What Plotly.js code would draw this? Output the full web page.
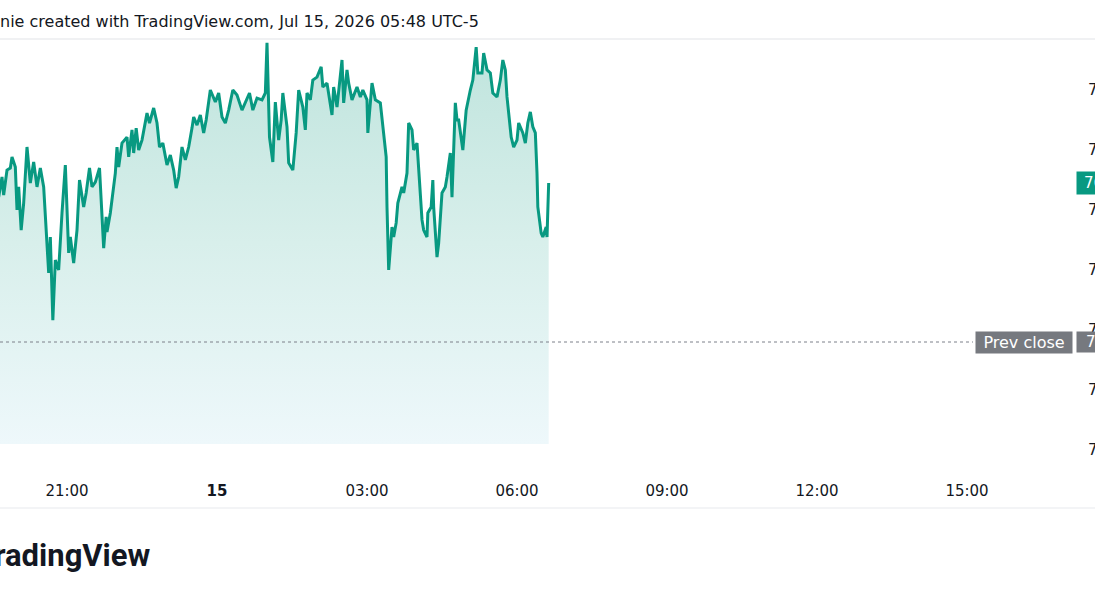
<!DOCTYPE html>
<html><head><meta charset="utf-8">
<script src="https://cdn.plot.ly/plotly-3.0.1.min.js"></script>
<style>html,body{margin:0;padding:0;background:#fff;overflow:hidden}#chart{width:1095px;height:600px}</style>
</head><body><div id="chart"></div>
<script>
// ---- data ----
const timesJul14 = ["19:38","19:42","19:44","19:48","19:52","19:54","19:58","20:00","20:02","20:05","20:08","20:12","20:16","20:20","20:24","20:28","20:32","20:38","20:40","20:43","20:46","20:50","20:54","20:58","21:02","21:04","21:08","21:12","21:15","21:20","21:23","21:27","21:30","21:34","21:39","21:44","21:47","21:48","21:52","21:58","22:00","22:02","22:06","22:12","22:14","22:18","22:20","22:23","22:26","22:30","22:36","22:39","22:44","22:48","22:51","22:55","23:00","23:04","23:08","23:11","23:14","23:18","23:22","23:26","23:30","23:32","23:36","23:40","23:44","23:47","23:52","23:58"];
const pricesJul14 = [76.843,76.910,76.850,76.933,76.940,76.977,76.943,76.800,76.877,76.733,76.823,77.010,76.890,76.960,76.877,76.940,76.877,76.590,76.710,76.433,76.633,76.600,76.790,76.950,76.657,76.710,76.623,76.733,76.900,76.810,76.857,76.940,76.877,76.893,76.940,76.673,76.777,76.727,76.790,76.923,77.010,76.943,77.023,77.043,76.977,77.067,76.990,77.073,77.000,77.033,77.123,77.090,77.140,77.090,77.010,77.023,76.950,76.983,76.933,76.873,76.910,77.010,76.967,77.010,77.073,77.110,77.083,77.117,77.057,77.100,77.200,77.160];
const timesJul15 = ["00:02","00:06","00:10","00:14","00:19","00:24","00:30","00:34","00:39","00:43","00:48","00:54","00:58","01:00","01:03","01:07","01:10","01:14","01:17","01:19","01:24","01:26","01:31","01:35","01:38","01:43","01:46","01:48","01:52","01:55","02:00","02:05","02:07","02:12","02:18","02:20","02:24","02:30","02:32","02:36","02:38","02:42","02:48","02:52","02:55","03:00","03:01","03:06","03:10","03:16","03:19","03:23","03:24","03:26","03:30","03:32","03:35","03:37","03:42","03:44","03:48","03:50","03:54","03:56","04:00","04:02","04:06","04:08","04:12","04:13","04:17","04:19","04:20","04:24","04:26","04:30","04:34","04:36","04:40","04:42","04:46","04:48","04:50","04:55","04:59","05:04","05:07","05:11","05:13","05:18","05:20","05:24","05:28","05:31","05:36","05:40","05:43","05:46","05:48","05:53","05:56","06:00","06:02","06:07","06:10","06:13","06:16","06:19","06:22","06:24","06:25","06:29","06:31","06:35","06:36","06:38"];
const pricesJul15 = [77.190,77.110,77.090,77.133,77.200,77.183,77.133,77.160,77.190,77.133,77.173,77.167,77.190,77.357,77.043,76.960,77.160,77.033,77.100,77.190,77.077,76.957,76.933,77.057,77.200,77.143,77.067,77.190,77.167,77.233,77.243,77.277,77.210,77.223,77.117,77.210,77.143,77.300,77.157,77.267,77.223,77.167,77.210,77.177,77.200,77.167,77.057,77.223,77.167,77.157,77.077,76.977,76.810,76.600,76.743,76.710,76.757,76.823,76.877,76.857,76.923,77.090,77.067,77.000,77.023,76.933,76.767,76.733,76.710,76.790,76.810,76.900,76.810,76.643,76.690,76.857,76.877,76.910,76.990,76.843,77.157,77.100,77.100,77.000,77.133,77.200,77.233,77.343,77.257,77.257,77.323,77.267,77.257,77.190,77.177,77.233,77.300,77.267,77.177,77.043,77.010,77.033,77.090,77.057,77.023,77.090,77.127,77.077,77.057,76.923,76.810,76.723,76.710,76.743,76.710,76.890];
const prevClose = 76.36;
const xTickVals = ["2026-07-14 21:00","2026-07-15 00:00","2026-07-15 03:00","2026-07-15 06:00","2026-07-15 09:00","2026-07-15 12:00","2026-07-15 15:00"];
const xTickText = ["21:00","<b>15</b>","03:00","06:00","09:00","12:00","15:00"];
const yTickVals = [76.0,76.2,76.4,76.6,76.8,77.0,77.2];
const yTickText = ["76.00","76.20","76.40","76.60","76.80","77.00","77.20"];
const xRange = ["2026-07-14 19:39:36","2026-07-15 17:09:36"];
const yRange = [75.9333,77.3667];
const titleText = "nie created with TradingView.com, Jul 15, 2026 05:48 UTC-5";

// ---- build ----
const times = timesJul14.map(t => "2026-07-14 " + t).concat(timesJul15.map(t => "2026-07-15 " + t));
const prices = pricesJul14.concat(pricesJul15);
const lastPrice = prices[prices.length - 1];

const W = 1095, H = 600, ML = 0, MR = 20, MT = 40, MB = 130;
const px = x => (x - ML) / (W - ML - MR);
const py = y => (H - MB - y) / (H - MT - MB);
const GREEN = "#089981", GREY = "#76797f", TXT = "#131722";
const FONT = "DejaVu Sans";

const trace = {
  x: times, y: prices, type: "scatter", mode: "lines",
  line: {color: GREEN, width: 3, shape: "linear"},
  fill: "tozeroy",
  fillgradient: {type: "vertical", start: 76.02, stop: 77.36,
    colorscale: [[0, "#eef8fb"], [0.5, "#d8efeb"], [1, "#bfe4dd"]]},
  hoverinfo: "skip", showlegend: false
};

const layout = {
  width: W, height: H,
  margin: {l: ML, r: MR, t: MT, b: MB, pad: 0},
  paper_bgcolor: "#ffffff", plot_bgcolor: "#ffffff",
  showlegend: false,
  title: {text: titleText, x: 0, xref: "paper", xanchor: "left", y: 1 - 21 / H, yref: "container", yanchor: "middle",
    font: {family: FONT, size: 16, color: TXT}},
  xaxis: {type: "date", range: xRange, tickvals: xTickVals, ticktext: xTickText,
    showgrid: false, zeroline: false, showline: false, ticks: "", ticklabelstandoff: 10,
    tickfont: {family: FONT, size: 15, color: TXT}, fixedrange: true},
  yaxis: {range: yRange, side: "right", tickvals: yTickVals, ticktext: yTickText,
    showgrid: false, zeroline: false, showline: false, ticks: "", ticklabelstandoff: 12,
    tickfont: {family: FONT, size: 15, color: TXT}, fixedrange: true},
  shapes: [
    {type: "rect", xref: "paper", yref: "paper", x0: 0, x1: 1, y0: 0, y1: py(444), fillcolor: "#ffffff", line: {width: 0}, layer: "above"},
    {type: "line", xref: "paper", yref: "y", x0: 0, x1: px(973), y0: prevClose, y1: prevClose, line: {color: "#7d808a", width: 1, dash: "dot"}, layer: "above"},
    {type: "line", xref: "paper", yref: "paper", x0: px(0), x1: px(W), y0: py(39), y1: py(39), line: {color: "#f0f1f3", width: 2}},
    {type: "line", xref: "paper", yref: "paper", x0: px(0), x1: px(W), y0: py(508), y1: py(508), line: {color: "#f3f4f6", width: 2}}
  ],
  annotations: [
    {text: lastPrice.toFixed(2), xref: "paper", x: px(1076), xanchor: "left", yref: "y", y: lastPrice, yanchor: "middle",
      width: 48, align: "right", showarrow: false, bgcolor: GREEN, borderpad: 2, font: {family: FONT, size: 15, color: "#ffffff"}},
    {text: "Prev close", xref: "paper", x: px(1073), xanchor: "right", yref: "y", y: prevClose, yanchor: "middle",
      width: 94, align: "center", showarrow: false, bgcolor: GREY, borderpad: 1, font: {family: FONT, size: 16, color: "#ffffff"}},
    {text: prevClose.toFixed(2), xref: "paper", x: px(1076), xanchor: "left", yref: "y", y: prevClose, yanchor: "middle",
      width: 51, align: "right", showarrow: false, bgcolor: GREY, borderpad: 1, font: {family: FONT, size: 15, color: "#ffffff"}},
    {text: "<b>TradingView</b>", xref: "paper", x: px(153), xanchor: "right", yref: "paper", y: py(555), yanchor: "middle",
      showarrow: false, font: {family: "Roboto", size: 31, color: TXT}}
  ]
};

Plotly.newPlot("chart", [trace], layout, {displayModeBar: false, staticPlot: true});
</script></body></html>
